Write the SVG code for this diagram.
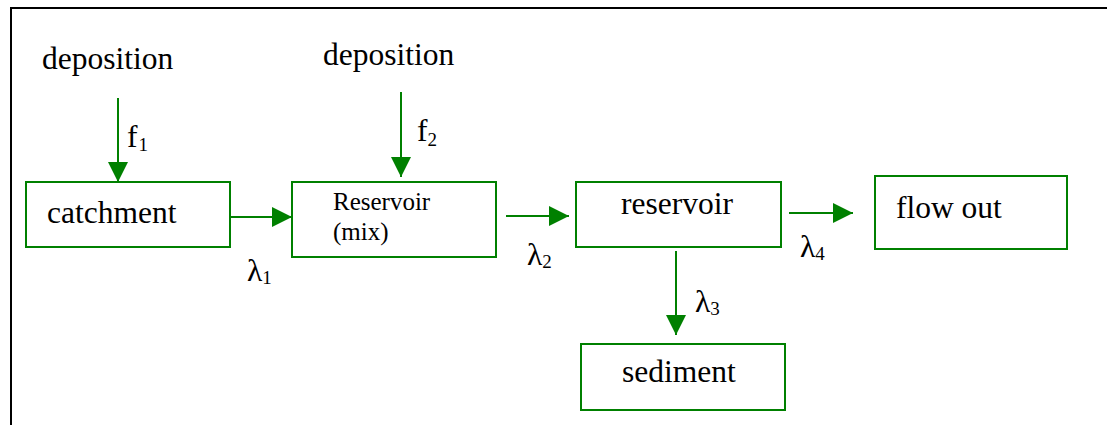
<svg xmlns="http://www.w3.org/2000/svg" width="1107" height="425" viewBox="0 0 1107 425">
  <style>
    .box { fill: none; stroke: #008000; stroke-width: 2; }
    .edge { fill: none; stroke: #008000; stroke-width: 2; }
    .frame { fill: none; stroke: #000; stroke-width: 2; }
    .t { font-size: 31.5px; }
    .ts { font-size: 25px; }
    .sub { font-size: 19px; }
  </style>
  <defs>
    <marker id="head" markerUnits="userSpaceOnUse" viewBox="0 0 20 20" refX="20" refY="10" markerWidth="20" markerHeight="20" orient="auto">
      <path d="M0,0 L20,10 L0,20 Z" fill="#008000"/>
    </marker>
  </defs>

  <rect width="1107" height="425" fill="#fff"/>

  <!-- outer frame (top and left edges) -->
  <path class="frame" d="M11,425 V8 H1107"/>

  <g font-family="'Liberation Serif', 'Times New Roman', Tinos, serif" fill="#000">
    <!-- inflow labels -->
    <text class="t" x="42" y="69">deposition</text>
    <text class="t" x="323" y="65">deposition</text>

    <g id="catchment">
      <rect class="box" x="26" y="182" width="204" height="65"/>
      <text class="t" x="47" y="223">catchment</text>
    </g>

    <g id="reservoir-mix">
      <rect class="box" x="292" y="182" width="204" height="75"/>
      <text class="ts" x="333" y="210">Reservoir</text>
      <text class="ts" x="333" y="240">(mix)</text>
    </g>

    <g id="reservoir">
      <rect class="box" x="576" y="182" width="205" height="65"/>
      <text class="t" x="621" y="214">reservoir</text>
    </g>

    <g id="sediment">
      <rect class="box" x="581" y="344" width="204" height="66"/>
      <text class="t" x="622" y="382">sediment</text>
    </g>

    <g id="flow-out">
      <rect class="box" x="875" y="176" width="192" height="73"/>
      <text class="t" x="896" y="218">flow out</text>
    </g>

    <g id="connectors">
      <path class="edge" d="M118,98 V182" marker-end="url(#head)"/>
      <path class="edge" d="M230,217 H292" marker-end="url(#head)"/>
      <path class="edge" d="M401,92 V177" marker-end="url(#head)"/>
      <path class="edge" d="M506,216 H569" marker-end="url(#head)"/>
      <path class="edge" d="M789,213 H853" marker-end="url(#head)"/>
      <path class="edge" d="M676,251 V335" marker-end="url(#head)"/>
    </g>

    <g id="rate-labels">
      <text class="t" x="127" y="147">f<tspan class="sub" dx="1" dy="4">1</tspan></text>
      <text class="t" x="417" y="141">f<tspan class="sub" dy="5">2</tspan></text>
      <text class="t" x="247" y="281">λ<tspan class="sub" dy="3">1</tspan></text>
      <text class="t" x="527" y="265">λ<tspan class="sub" dy="3">2</tspan></text>
      <text class="t" x="695" y="312">λ<tspan class="sub" dy="3">3</tspan></text>
      <text class="t" x="800" y="257">λ<tspan class="sub" dy="3">4</tspan></text>
    </g>
  </g>
</svg>
